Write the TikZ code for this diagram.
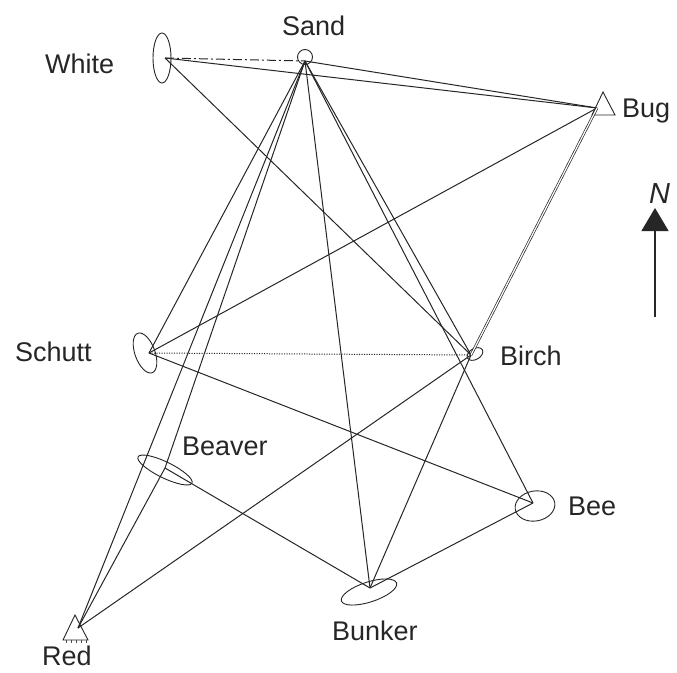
\documentclass[tikz,border=0pt]{standalone}
\usepackage{fontspec}
\setmainfont{Liberation Sans}
\usetikzlibrary{arrows.meta,shapes.geometric}
\begin{document}
\begin{tikzpicture}[x=1pt,y=-1pt,
  leg/.style={line width=1pt, draw=black!85},
  dashdotleg/.style={leg, dash pattern=on 9pt off 3pt on 2pt off 3pt},
  dotleg/.style={leg, dash pattern=on 1.2pt off 1.3pt},
  doubleleg/.style={line width=0.7pt, draw=black!85, double, double distance=1.2pt},
  stn/.style={draw=black!85, line width=0.9pt, ellipse, inner sep=0pt},
  lbl/.style={anchor=base west, inner sep=0pt, font=\fontsize{27}{30}\selectfont, text=black!85},
]
\useasboundingbox (0,0) rectangle (677,672);

% station points
\coordinate (sand) at (305,61);
\coordinate (white) at (165,58);
\coordinate (bug) at (597,108);
\coordinate (schutt) at (149,353);
\coordinate (birch) at (471,355);
\coordinate (beaver) at (165,468);
\coordinate (bee) at (533,503);
\coordinate (bunker) at (370,588);
\coordinate (red) at (78,628);

% station markers
\node[stn, circle, minimum size=15pt] (sandm) at (305,57) {};
\node[stn, minimum width=18pt, minimum height=50pt] (whitem) at (162,58) {};
\node[stn, minimum width=20pt, minimum height=42pt, rotate=20] (schuttm) at (145,353) {};
\node[stn, minimum width=17pt, minimum height=11pt, rotate=30] (birchm) at (475,354) {};
\node[stn, minimum width=60pt, minimum height=16pt, rotate=-26] (beaverm) at (165,470) {};
\node[stn, minimum width=40pt, minimum height=30pt, rotate=10] (beem) at (535,506) {};
\node[stn, minimum width=58pt, minimum height=20pt, rotate=18] (bunkerm) at (369,592) {};
\draw[draw=black!85, line width=0.9pt] (603,92) -- (592,115) -- (615,115) -- cycle;
\draw[draw=black!85, line width=0.9pt] (75,615) -- (63,640) -- (88,640) -- cycle;
\foreach \t in {66,71,76,81,86} \draw[draw=black!70, line width=0.5pt] (\t,640) -- (\t,643);

% connectors
\draw[dashdotleg] (white) -- (sand);
\draw[leg] (white) -- (bug);
\draw[leg] (sand) -- (bug);
\draw[leg] (white) -- (birch);
\draw[leg] (sand) -- (schutt);
\draw[leg] (sand) -- (beaver);
\draw[leg] (sand) -- (red);
\draw[leg] (sand) -- (bunker);
\draw[leg] (sand) -- (birch);
\draw[leg] (sand) -- (bee);
\draw[leg] (bug) -- (schutt);
\draw[doubleleg] (bug) -- (birch);
\draw[dotleg] (schutt) -- (birch);
\draw[leg] (schutt) -- (bee);
\draw[leg] (birch) -- (red);
\draw[leg] (birch) -- (bunker);
\draw[leg] (beaver) -- (red);
\draw[leg] (beaver) -- (bunker);
\draw[leg] (bunker) -- (bee);

% labels
\node[lbl] (sandl) at (282,35) {Sand};
\node[lbl] (whitel) at (45,73) {White};
\node[lbl] (bugl) at (622,117) {Bug};
\node[lbl] (schuttl) at (15,361) {Schutt};
\node[lbl] (birchl) at (500,365) {Birch};
\node[lbl] (beaverl) at (182,455) {Beaver};
\node[lbl] (beel) at (568,515) {Bee};
\node[lbl] (bunkerl) at (332,640) {Bunker};
\node[lbl] (redl) at (42,665) {Red};

% north arrow
\node[lbl, font=\fontsize{29}{32}\selectfont\itshape] (northl) at (649,203) {N};
\coordinate (nb) at (655,317);
\coordinate (nt) at (655,208);
\draw[line width=1.3pt, draw=black!85, -{Triangle[length=23pt,width=27pt]}] (nb) -- (nt);
\end{tikzpicture}
\end{document}
